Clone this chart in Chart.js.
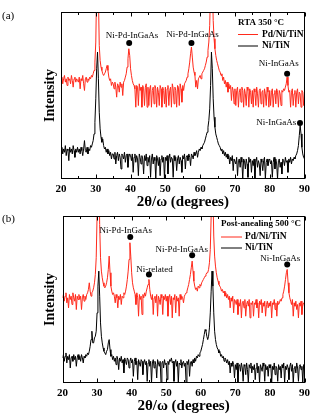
<!DOCTYPE html>
<html>
<head>
<meta charset="utf-8">
<script src="https://cdn.jsdelivr.net/npm/chart.js@4.4.1/dist/chart.umd.min.js"></script>
<style>
  html, body { margin: 0; padding: 0; background: #fff; }
  #wrap { position: relative; width: 314px; height: 414px; overflow: hidden; }
  canvas { position: absolute; left: 0; }
</style>
</head>
<body>
<div id="wrap">
  <canvas id="chartA" width="314" height="210" style="top:0px"></canvas>
  <canvas id="chartB" width="314" height="210" style="top:204px"></canvas>
</div>
<script>
// 2θ/ω scan: 20° -> 90°, one reading every 0.25°
const startAngle = 20;
const stepAngle = 0.25;
const xTicks = [20, 30, 40, 50, 60, 70, 80, 90];

// (a) RTA 350 °C  (relative intensity, arbitrary units, curves offset)
const pdNiTinA = [
  59, 61, 57, 60, 62, 58, 60, 56, 61, 59, 60, 57, 62, 59, 55, 60, 61, 58, 60, 59,
  58, 61, 54, 60, 59, 62, 57, 53, 60, 61, 58, 60, 59, 61, 60, 62, 61, 63, 65, 70,
  82, 115, 140, 110, 80, 71, 67, 65, 63, 62, 63, 64, 66, 68, 65, 61, 59, 60, 56, 58,
  57, 54, 58, 55, 49, 57, 56, 52, 58, 55, 57, 50, 58, 59, 61, 63, 67, 72, 78, 74,
  66, 62, 59, 57, 56, 54, 43, 56, 55, 44, 57, 53, 55, 43, 56, 54, 44, 55, 57, 43,
  55, 44, 54, 56, 43, 53, 55, 45, 56, 54, 43, 55, 52, 44, 56, 54, 43, 55, 53, 45,
  55, 43, 54, 56, 44, 53, 55, 43, 57, 54, 45, 55, 53, 43, 56, 55, 44, 57, 54, 46,
  56, 53, 57, 58, 59, 61, 63, 66, 70, 75, 79, 73, 67, 64, 62, 55, 59, 54, 60, 61,
  62, 60, 63, 64, 65, 66, 68, 70, 73, 77, 82, 92, 115, 140, 120, 95, 84, 78, 74, 71,
  69, 67, 65, 64, 62, 63, 59, 61, 57, 59, 55, 58, 52, 57, 54, 56, 47, 55, 53, 45,
  54, 44, 53, 55, 43, 52, 54, 46, 55, 53, 43, 54, 51, 44, 55, 53, 43, 54, 52, 45,
  53, 43, 54, 52, 44, 55, 51, 43, 53, 54, 45, 52, 53, 43, 54, 51, 44, 55, 52, 43,
  53, 44, 52, 54, 43, 51, 53, 45, 54, 52, 43, 53, 51, 44, 53, 52, 54, 53, 55, 57,
  61, 56, 52, 53, 43, 52, 54, 44, 51, 53, 43, 52, 54, 45, 52, 51, 43, 53, 52, 44,
  52
];
const niTinA = [
  17, 19, 15, 18, 16, 20, 14, 18, 17, 11, 19, 16, 18, 15, 20, 17, 13, 18, 16, 19,
  16, 18, 15, 19, 17, 14, 18, 23, 17, 16, 19, 15, 18, 17, 20, 19, 21, 23, 27, 34,
  48, 66, 76, 60, 40, 30, 25, 22, 24, 20, 18, 19, 16, 18, 15, 17, 14, 16, 12, 15,
  15, 12, 16, 9, 14, 16, 11, 15, 13, 6, 15, 14, 12, 16, 10, 14, 15, 7, 13, 15,
  14, 11, 15, 4, 13, 15, 10, 14, 12, 2, 15, 13, 9, 14, 12, 3, 14, 11, 15, 8,
  13, 10, 14, 1, 12, 15, 9, 13, 11, 0, 14, 12, 8, 13, 2, 12, 14, 10, 13, 0,
  13, 11, 14, 3, 12, 15, 10, 13, 12, 1, 14, 11, 13, 5, 12, 14, 9, 13, 11, 4,
  14, 12, 15, 6, 13, 14, 11, 15, 13, 8, 15, 14, 12, 16, 14, 15, 17, 13, 16, 18,
  17, 19, 18, 20, 21, 22, 24, 26, 28, 31, 35, 42, 56, 76, 66, 48, 37, 31, 27, 25,
  23, 21, 20, 19, 17, 18, 15, 17, 14, 16, 13, 15, 12, 14, 9, 13, 11, 14, 5, 12,
  12, 9, 13, 2, 11, 12, 7, 13, 10, 0, 12, 11, 6, 12, 9, 1, 13, 10, 12, 4,
  11, 8, 12, 0, 10, 13, 7, 11, 9, 2, 12, 10, 5, 11, 13, 0, 10, 12, 8, 11,
  12, 9, 11, 1, 10, 13, 6, 12, 9, 0, 11, 12, 7, 10, 3, 12, 11, 8, 13, 10,
  11, 4, 12, 10, 13, 9, 12, 11, 13, 12, 14, 15, 17, 20, 26, 32, 27, 19, 15, 13,
  12
];
const tagTextA = ['Ni-Pd-InGaAs', 'Ni-Pd-InGaAs', 'Ni-InGaAs', 'Ni-InGaAs'];
const tagXA = [40.4, 57.8, 82.6, 81.9];
const tagYA = [86, 86.5, 69, 33.5];
const dotXA = [39.6, 57.5, 85.0, 88.7];
const dotYA = [81.5, 81.5, 63, 33.5];

// (b) post-annealing 500 °C
const pdNiTinB = [
  51, 53, 49, 52, 54, 48, 51, 45, 53, 50, 52, 47, 54, 51, 49, 53, 44, 52, 50, 53,
  50, 52, 44, 51, 53, 49, 52, 50, 53, 54, 56, 60, 55, 52, 54, 55, 57, 60, 65, 75,
  100, 140, 130, 95, 75, 67, 63, 60, 58, 57, 58, 60, 63, 68, 76, 66, 58, 55, 53, 54,
  52, 48, 53, 51, 45, 52, 50, 53, 47, 52, 51, 54, 53, 55, 58, 62, 67, 74, 84, 76,
  66, 60, 57, 55, 53, 47, 54, 51, 40, 53, 50, 52, 41, 53, 51, 54, 52, 55, 57, 59,
  62, 56, 52, 50, 53, 41, 51, 52, 48, 53, 40, 52, 50, 47, 53, 51, 41, 52, 50, 53,
  49, 52, 40, 51, 53, 47, 52, 39, 51, 50, 53, 42, 52, 49, 51, 40, 53, 50, 52, 51,
  48, 52, 53, 54, 55, 57, 59, 62, 65, 69, 73, 67, 61, 58, 56, 57, 55, 58, 57, 59,
  58, 60, 61, 62, 63, 64, 65, 66, 66, 68, 72, 80, 100, 140, 115, 88, 76, 70, 66, 63,
  61, 59, 58, 57, 55, 56, 54, 55, 52, 54, 51, 53, 50, 52, 45, 51, 49, 52, 42, 50,
  49, 47, 50, 41, 48, 46, 50, 39, 48, 49, 45, 50, 40, 47, 49, 46, 50, 39, 48, 47,
  49, 40, 48, 47, 50, 45, 48, 39, 49, 47, 50, 42, 48, 46, 49, 40, 47, 49, 45, 48,
  46, 49, 39, 48, 47, 50, 44, 48, 40, 49, 47, 48, 50, 49, 51, 53, 55, 58, 62, 66,
  68, 60, 54, 51, 49, 47, 50, 40, 48, 46, 49, 44, 47, 39, 48, 46, 49, 41, 47, 48,
  46
];
const niTinB = [
  15, 17, 13, 16, 18, 12, 16, 14, 17, 9, 15, 16, 13, 17, 14, 16, 10, 15, 17, 14,
  16, 13, 17, 15, 12, 16, 15, 17, 16, 18, 17, 19, 22, 26, 31, 24, 24, 27, 28, 31,
  42, 58, 67, 52, 36, 28, 24, 21, 19, 18, 17, 19, 20, 24, 26, 20, 16, 17, 14, 16,
  13, 15, 11, 16, 14, 8, 15, 13, 16, 12, 14, 6, 15, 13, 11, 15, 14, 9, 13, 15,
  12, 14, 4, 13, 15, 11, 13, 2, 14, 12, 10, 14, 13, 5, 12, 14, 11, 13, 1, 12,
  14, 10, 13, 0, 12, 14, 9, 13, 11, 3, 14, 12, 10, 13, 0, 12, 13, 9, 14, 11,
  12, 2, 13, 11, 14, 13, 15, 12, 13, 1, 12, 14, 10, 13, 0, 12, 11, 14, 9, 12,
  13, 10, 12, 0, 13, 11, 14, 4, 12, 13, 10, 14, 12, 15, 13, 16, 15, 17, 16, 18,
  19, 21, 23, 26, 29, 32, 31, 28, 26, 28, 33, 42, 55, 67, 58, 42, 31, 26, 23, 21,
  20, 18, 19, 16, 17, 15, 16, 13, 15, 14, 12, 14, 11, 13, 6, 12, 10, 13, 11, 3,
  11, 8, 12, 0, 10, 11, 7, 12, 9, 1, 11, 10, 5, 12, 8, 0, 11, 9, 12, 6,
  10, 8, 11, 2, 9, 12, 6, 10, 0, 11, 9, 7, 12, 10, 1, 11, 8, 10, 4, 11,
  9, 11, 0, 10, 8, 12, 5, 10, 9, 1, 11, 8, 10, 3, 11, 9, 12, 0, 10, 8,
  11, 9, 2, 10, 12, 7, 11, 0, 9, 10, 6, 12, 9, 1, 10, 11, 8, 10, 0, 11,
  9
];
const tagTextB = ['Ni-Pd-InGaAs', 'Ni-related', 'Ni-Pd-InGaAs', 'Ni-InGaAs'];
const tagXB = [38.3, 46.6, 54.5, 83.0];
const tagYB = [91.2, 67.8, 80, 74.4];
const dotXB = [39.6, 45.0, 57.5, 85.0];
const dotYB = [87.5, 65, 76.5, 71];

const seriesNames = ['Pd/Ni/TiN', 'Ni/TiN'];
const RED = '#ff2a1c';
const SERIF = "'Liberation Serif', 'Times New Roman', serif";

Chart.defaults.font.family = SERIF;
Chart.defaults.color = '#000';

const toPoints = vals => vals.map((v, i) => ({ x: startAngle + i * stepAngle, y: v }));

// box, inward ticks, tags, legend, panel letter
const decorations = {
  id: 'decorations',
  afterDatasetsDraw(chart, args, o) {
    const { ctx, chartArea: a, scales: { x, y } } = chart;
    ctx.save();
    ctx.strokeStyle = '#000';
    ctx.lineWidth = 1;
    const L = Math.round(a.left) + 0.5, R = Math.round(a.right) - 0.5;
    const T = Math.round(a.top) + 0.5, B = Math.round(a.bottom) - 0.5;
    ctx.strokeRect(L, T, R - L, B - T);
    ctx.beginPath();
    for (let v = 20; v <= 90; v += 5) {
      const px = Math.round(x.getPixelForValue(v)) + 0.5;
      const len = v % 10 === 0 ? 4 : 2.5;
      ctx.moveTo(px, B); ctx.lineTo(px, B - len);
      ctx.moveTo(px, T); ctx.lineTo(px, T + len);
    }
    ctx.stroke();

    ctx.fillStyle = '#000';
    ctx.textBaseline = 'middle';
    ctx.textAlign = 'center';
    ctx.font = '9px ' + SERIF;
    o.tagText.forEach((t, i) => {
      ctx.fillText(t, x.getPixelForValue(o.tagX[i]), y.getPixelForValue(o.tagY[i]));
    });

    // legend
    ctx.textAlign = 'left';
    ctx.font = 'bold 9px ' + SERIF;
    ctx.fillText(o.condition, o.legX, o.legY);
    ctx.font = 'bold 9.5px ' + SERIF;
    [RED, '#000'].forEach((c, i) => {
      const ly = o.lineY[i];
      ctx.strokeStyle = c;
      ctx.beginPath();
      ctx.moveTo(o.lineX0, ly); ctx.lineTo(o.lineX1, ly);
      ctx.stroke();
      ctx.fillText(seriesNames[i], o.textX, ly);
    });

    ctx.font = '11px ' + SERIF;
    ctx.fillText(o.letter, 2, o.letterY);
    ctx.restore();
  }
};

function drawPanel(id, red, black, dotX, dotY, axisLeft, deco) {
  new Chart(document.getElementById(id), {
    type: 'line',
    data: {
      datasets: [
        { data: toPoints(black), borderColor: '#000', borderWidth: 1, pointRadius: 0,
          borderJoinStyle: 'bevel', order: 1 },
        { data: toPoints(red), borderColor: RED, borderWidth: 1, pointRadius: 0,
          borderJoinStyle: 'bevel', order: 2 },
        { data: dotX.map((v, i) => ({ x: v, y: dotY[i] })), showLine: false,
          pointRadius: 3, pointBackgroundColor: '#000', pointBorderWidth: 0, order: 0 }
      ]
    },
    options: {
      responsive: false,
      animation: false,
      devicePixelRatio: 1,
      layout: { padding: { top: 12, right: 7, bottom: 0, left: 0 } },
      plugins: { legend: { display: false }, tooltip: { enabled: false }, decorations: deco },
      scales: {
        x: {
          type: 'linear', min: 20, max: 90,
          grid: { display: false, drawTicks: false },
          border: { display: false },
          afterBuildTicks: s => { s.ticks = xTicks.map(v => ({ value: v })); },
          ticks: { padding: 4, maxRotation: 0, autoSkip: false, font: { size: 11, weight: 'bold' } },
          title: { display: true, text: '2θ/ω (degrees)', font: { size: 15, weight: 'bold', lineHeight: 1 },
                   padding: { top: 0, bottom: 0 } },
          afterFit: s => { s.height = 31; }
        },
        y: {
          min: 0, max: 100,
          grid: { display: false, drawTicks: false },
          border: { display: false },
          ticks: { display: false },
          title: { display: true, text: 'Intensity', font: { size: 14, weight: 'bold', lineHeight: 1 },
                   padding: { top: 43, bottom: 0 } },
          afterFit: s => { s.width = axisLeft; }
        }
      }
    },
    plugins: [decorations]
  });
}

drawPanel('chartA', pdNiTinA, niTinA, dotXA, dotYA, 61, {
  tagText: tagTextA, tagX: tagXA, tagY: tagYA,
  condition: 'RTA 350 °C', legX: 238, legY: 23,
  lineX0: 238, lineX1: 258, lineY: [34.5, 46], textX: 262,
  letter: '(a)', letterY: 16
});
drawPanel('chartB', pdNiTinB, niTinB, dotXB, dotYB, 62.5, {
  tagText: tagTextB, tagX: tagXB, tagY: tagYB,
  condition: 'Post-anealing 500 °C', legX: 221, legY: 20,
  lineX0: 221, lineX1: 242, lineY: [33, 44], textX: 245,
  letter: '(b)', letterY: 15
});
</script>
</body>
</html>
